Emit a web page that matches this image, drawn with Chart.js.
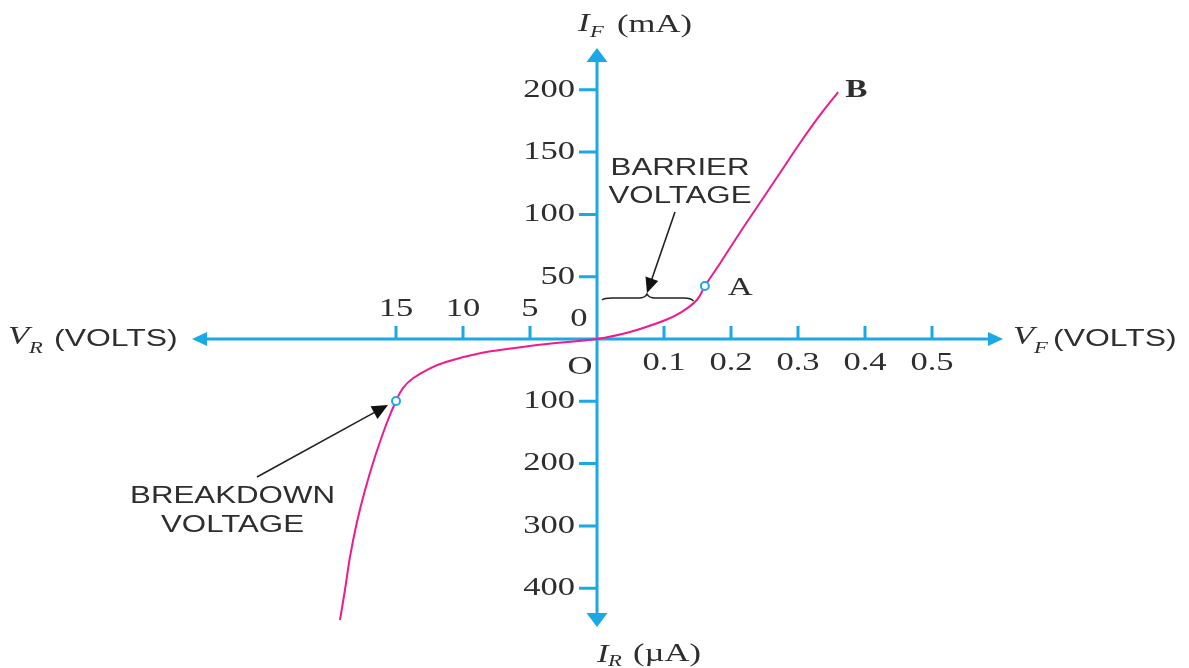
<!DOCTYPE html>
<html><head><meta charset="utf-8">
<script src="https://cdn.jsdelivr.net/npm/chart.js@4.4.1/dist/chart.umd.min.js"></script>
<style>html,body{margin:0;padding:0;background:#fff;overflow:hidden}canvas{display:block}</style>
</head><body>
<canvas id="c" width="1189" height="668"></canvas>
<script>
// ---- tick labels ----
const reverseVoltTicks = [15, 10, 5];
const forwardVoltTicks = [0.1, 0.2, 0.3, 0.4, 0.5];
const forwardCurrentTicks = [50, 100, 150, 200];   // mA
const reverseCurrentTicks = [100, 200, 300, 400];  // µA

// ---- curve: forward region (V, mA) ----
const forwardV = [0, 0.049, 0.0985, 0.124, 0.149, 0.161, 0.184, 0.213, 0.243, 0.273, 0.303, 0.333, 0.360];
const forwardI = [0, 5.6, 14.4, 20.9, 31.3, 42.5, 61.0, 85.1, 109.1, 133.2, 157.3, 179.8, 198.2];
// ---- curve: reverse region (V, µA) ----
const reverseV = [3.75, 6.27, 8.73, 11.22, 12.46, 13.73, 14.48, 15.0, 15.69, 16.57, 17.31, 17.93, 18.43, 18.81, 19.18];
const reverseI = [8.0, 14.9, 22.9, 36.4, 47.0, 63.1, 78.7, 99.5, 134.8, 188.9, 242.4, 295.3, 349.4, 402.9, 451.0];

// ---- marked points ----
const pointA = [0.161, 42.5];          // forward (V, mA)
const breakdownPoint = [15.0, 99.5];   // reverse (V, µA)

// each tick step = one plot unit
const VF_STEP = 0.1, VR_STEP = 5, IF_STEP = 50, IR_STEP = 100;
const fwd = (v, i) => ({x: v / VF_STEP, y: i / IF_STEP});
const rev = (v, i) => ({x: -v / VR_STEP, y: -i / IR_STEP});

const curve = [];
for (let k = reverseV.length - 1; k >= 0; k--) curve.push(rev(reverseV[k], reverseI[k]));
for (let k = 0; k < forwardV.length; k++) curve.push(fwd(forwardV[k], forwardI[k]));
const markers = [fwd(pointA[0], pointA[1]), rev(breakdownPoint[0], breakdownPoint[1])];

const BLUE = '#1aa8e6', PINK = '#ee1a8e', TEXT = '#2e2e2e', SX = 1.33;
const SERIF = '"Liberation Serif", "DejaVu Serif", serif';
const SANS = '"Liberation Sans", Arial, sans-serif';

function txt(ctx, s, x, y, font, align) {
  ctx.save();
  ctx.translate(x, y);
  ctx.scale(SX, 1);
  ctx.font = font;
  ctx.fillStyle = TEXT;
  ctx.textAlign = align || 'center';
  ctx.textBaseline = 'middle';
  ctx.fillText(s, 0, 0);
  ctx.restore();
}
function arrow(ctx, x0, y0, x1, y1, head) {
  const a = Math.atan2(y1 - y0, x1 - x0);
  ctx.save();
  ctx.strokeStyle = '#222'; ctx.fillStyle = '#111'; ctx.lineWidth = 1.6;
  ctx.beginPath(); ctx.moveTo(x0, y0);
  ctx.lineTo(x1 - Math.cos(a) * head * 0.8, y1 - Math.sin(a) * head * 0.8); ctx.stroke();
  ctx.beginPath(); ctx.moveTo(x1, y1);
  ctx.lineTo(x1 - head * Math.cos(a) + head * 0.45 * Math.sin(a), y1 - head * Math.sin(a) - head * 0.45 * Math.cos(a));
  ctx.lineTo(x1 - head * Math.cos(a) - head * 0.45 * Math.sin(a), y1 - head * Math.sin(a) + head * 0.45 * Math.cos(a));
  ctx.closePath(); ctx.fill();
  ctx.restore();
}

const axesPlugin = {
  id: 'axesPlugin',
  beforeDatasetsDraw(chart) {
    const ctx = chart.ctx, xs = chart.scales.x, ys = chart.scales.y, ca = chart.chartArea;
    const ox = xs.getPixelForValue(0), oy = ys.getPixelForValue(0);
    ctx.save();
    ctx.strokeStyle = BLUE; ctx.fillStyle = BLUE; ctx.lineWidth = 3;
    ctx.beginPath();
    ctx.moveTo(ca.left + 10, oy); ctx.lineTo(ca.right - 10, oy);
    ctx.moveTo(ox, ca.top + 10); ctx.lineTo(ox, ca.bottom - 10);
    ctx.stroke();
    ctx.beginPath();
    ctx.moveTo(ox, ca.top); ctx.lineTo(ox - 10.5, ca.top + 14); ctx.lineTo(ox + 10.5, ca.top + 14); ctx.closePath();
    ctx.moveTo(ox, ca.bottom); ctx.lineTo(ox - 10.5, ca.bottom - 14); ctx.lineTo(ox + 10.5, ca.bottom - 14); ctx.closePath();
    ctx.moveTo(ca.right, oy); ctx.lineTo(ca.right - 15, oy - 7); ctx.lineTo(ca.right - 15, oy + 7); ctx.closePath();
    ctx.moveTo(ca.left, oy); ctx.lineTo(ca.left + 15, oy - 7); ctx.lineTo(ca.left + 15, oy + 7); ctx.closePath();
    ctx.fill();
    ctx.lineWidth = 3;
    ctx.beginPath();
    reverseVoltTicks.forEach(v => { const x = xs.getPixelForValue(-v / VR_STEP); ctx.moveTo(x, oy); ctx.lineTo(x, oy - 13); });
    forwardVoltTicks.forEach(v => { const x = xs.getPixelForValue(v / VF_STEP); ctx.moveTo(x, oy); ctx.lineTo(x, oy - 13); });
    forwardCurrentTicks.forEach(i => { const y = ys.getPixelForValue(i / IF_STEP); ctx.moveTo(ox, y); ctx.lineTo(ox - 18, y); });
    reverseCurrentTicks.forEach(i => { const y = ys.getPixelForValue(-i / IR_STEP); ctx.moveTo(ox, y); ctx.lineTo(ox - 18, y); });
    ctx.stroke();
    ctx.restore();
  },
  afterDatasetsDraw(chart) {
    const ctx = chart.ctx, xs = chart.scales.x, ys = chart.scales.y, ca = chart.chartArea;
    const ox = xs.getPixelForValue(0), oy = ys.getPixelForValue(0);
    const px = u => xs.getPixelForValue(u), py = u => ys.getPixelForValue(u);
    const num = '26px ' + SERIF;
    reverseVoltTicks.forEach(v => txt(ctx, String(v), px(-v / VR_STEP), oy - 30, num, 'center'));
    forwardVoltTicks.forEach(v => txt(ctx, String(v), px(v / VF_STEP), oy + 24, num, 'center'));
    forwardCurrentTicks.forEach(i => txt(ctx, String(i), ox - 22, py(i / IF_STEP), num, 'right'));
    reverseCurrentTicks.forEach(i => txt(ctx, String(i), ox - 22, py(-i / IR_STEP), num, 'right'));
    txt(ctx, '0', ox - 18, oy - 20, num, 'center');
    txt(ctx, 'O', ox - 17, oy + 28, num, 'center');

    const it = 'italic 26px ' + SERIF, sub = 'italic 17px ' + SERIF, sans = '24px ' + SANS;
    txt(ctx, 'I', ox - 19, ca.top - 24, it, 'left');
    txt(ctx, 'F', ox - 7, ca.top - 15, sub, 'left');
    txt(ctx, '(mA)', ox + 20, ca.top - 23, num, 'left');
    txt(ctx, 'I', ox, ca.bottom + 28, it, 'left');
    txt(ctx, 'R', ox + 11, ca.bottom + 35, sub, 'left');
    txt(ctx, '(\u00b5A)', ox + 36, ca.bottom + 27, num, 'left');
    txt(ctx, 'V', ca.right + 10, oy - 2, it, 'left');
    txt(ctx, 'F', ca.right + 31, oy + 10, sub, 'left');
    txt(ctx, '(VOLTS)', ca.right + 50, oy, sans, 'left');
    txt(ctx, 'V', ca.left - 184, oy - 2, it, 'left');
    txt(ctx, 'R', ca.left - 163, oy + 10, sub, 'left');
    txt(ctx, '(VOLTS)', ca.left - 138, oy, sans, 'left');

    const a = markers[0];
    txt(ctx, 'A', px(a.x) + 23, py(a.y) + 2, num, 'left');
    const last = curve[curve.length - 1];
    txt(ctx, 'B', px(last.x) + 7, py(last.y) - 1, 'bold 25px ' + SERIF, 'left');

    const lab = '23.5px ' + SANS;
    txt(ctx, 'BARRIER', px(1.239), py(2.737), lab, 'center');
    txt(ctx, 'VOLTAGE', px(1.239), py(2.287), lab, 'center');
    ctx.save();
    ctx.strokeStyle = '#222'; ctx.lineWidth = 1.6;
    const by = py(0.658), bx0 = px(0.075), bx1 = px(1.44), bxm = px(0.746);
    ctx.beginPath();
    ctx.moveTo(bx0, by + 2);
    ctx.quadraticCurveTo(bx0 + 2, by, bx0 + 10, by);
    ctx.lineTo(bxm - 8, by);
    ctx.quadraticCurveTo(bxm - 2, by, bxm, by - 4);
    ctx.quadraticCurveTo(bxm + 2, by, bxm + 8, by);
    ctx.lineTo(bx1 - 10, by);
    ctx.quadraticCurveTo(bx1 - 2, by, bx1, by + 3);
    ctx.stroke();
    ctx.restore();
    arrow(ctx, px(1.164), py(2.038), bxm, by - 5, 15);

    txt(ctx, 'BREAKDOWN', px(-5.44), py(-2.528), lab, 'center');
    txt(ctx, 'VOLTAGE', px(-5.44), py(-2.986), lab, 'center');
    arrow(ctx, px(-5.075), py(-2.215), px(-3.119), py(-1.059), 16);
  }
};

new Chart(document.getElementById('c'), {
  type: 'line',
  data: {
    datasets: [
      { data: markers, showLine: false, pointRadius: 4, pointBorderWidth: 2,
        pointBorderColor: BLUE, pointBackgroundColor: '#fff', order: 0 },
      { data: curve, borderColor: PINK, borderWidth: 2, pointRadius: 0,
        tension: 0.4, fill: false, order: 1 }
    ]
  },
  options: {
    responsive: false,
    animation: false,
    layout: { padding: { left: 192, right: 186, top: 48, bottom: 41 } },
    scales: {
      x: { type: 'linear', display: false, min: (192 - 597) / 67, max: (1003 - 597) / 67 },
      y: { type: 'linear', display: false, min: -(627 - 339) / 62.3, max: (339 - 48) / 62.3 }
    },
    plugins: { legend: { display: false }, tooltip: { enabled: false } },
    events: []
  },
  plugins: [axesPlugin]
});
</script>
</body></html>
